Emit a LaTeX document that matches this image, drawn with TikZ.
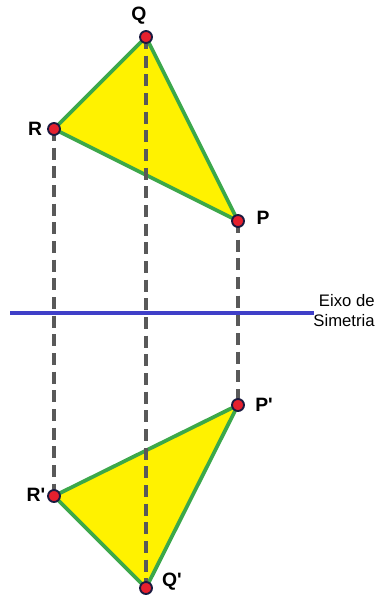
\documentclass[tikz,border=0pt]{standalone}
\usepackage{fontspec}
\setmainfont{Liberation Sans}
\newfontfamily\lblfont{Liberation Sans}[Ligatures=TeXOff]
\usetikzlibrary{positioning}
\definecolor{TriFill}{HTML}{FFF200}
\definecolor{TriEdge}{HTML}{3CA84A}
\definecolor{AxisBlue}{HTML}{3F3FC8}
\definecolor{DotRed}{HTML}{E5202E}
\definecolor{DotRim}{HTML}{1A1A40}
\tikzset{
  pt/.style={circle, fill=DotRed, draw=DotRim, line width=1.4pt, inner sep=0pt, minimum size=9pt},
  lbl/.style={font=\lblfont\fontsize{14.5}{16}\selectfont\bfseries, inner sep=0pt},
  tri/.style={fill=TriFill, draw=TriEdge, line width=2.8pt, line join=round},
  proj/.style={draw=black!65, line width=3pt, dash pattern=on 9pt off 5pt},
  axis/.style={draw=AxisBlue, line width=2.3pt},
}
\begin{document}
\begin{tikzpicture}[x=0.75pt, y=-0.75pt]
  \useasboundingbox (0,0) rectangle (375,599);
  % triangles
  \coordinate (q) at (146,37);
  \coordinate (r) at (54,129);
  \coordinate (p) at (238,221);
  \coordinate (pp) at (238,405);
  \coordinate (rr) at (54,496);
  \coordinate (qq) at (146,588);
  \filldraw[tri] (q) -- (r) -- (p) -- cycle;
  \filldraw[tri] (pp) -- (rr) -- (qq) -- cycle;
  % projections
  \draw[proj] (q) -- (qq);
  \draw[proj] (r) -- (rr);
  \draw[proj] (p) -- (pp);
  % axis
  \coordinate (axL) at (10,313);
  \coordinate (axR) at (314,313);
  \draw[axis] (axL) -- (axR);
  \node[align=right, font=\fontsize{12.5}{15}\selectfont, inner sep=0pt] (eixo) at (344,311) {Eixo de\\Simetria};
  % points
  \node[pt] (Q) at (q) {};
  \node[pt] (R) at (r) {};
  \node[pt] (P) at (p) {};
  \node[pt] (P2) at (pp) {};
  \node[pt] (R2) at (rr) {};
  \node[pt] (Q2) at (qq) {};
  \node[lbl] (lQ) at (139,16) {Q};
  \node[lbl] (lR) at (35,129) {R};
  \node[lbl] (lP) at (263,218) {P};
  \node[lbl] (lP2) at (264,405) {P'};
  \node[lbl] (lR2) at (36,495) {R'};
  \node[lbl] (lQ2) at (172,582) {Q'};
\end{tikzpicture}
\end{document}
